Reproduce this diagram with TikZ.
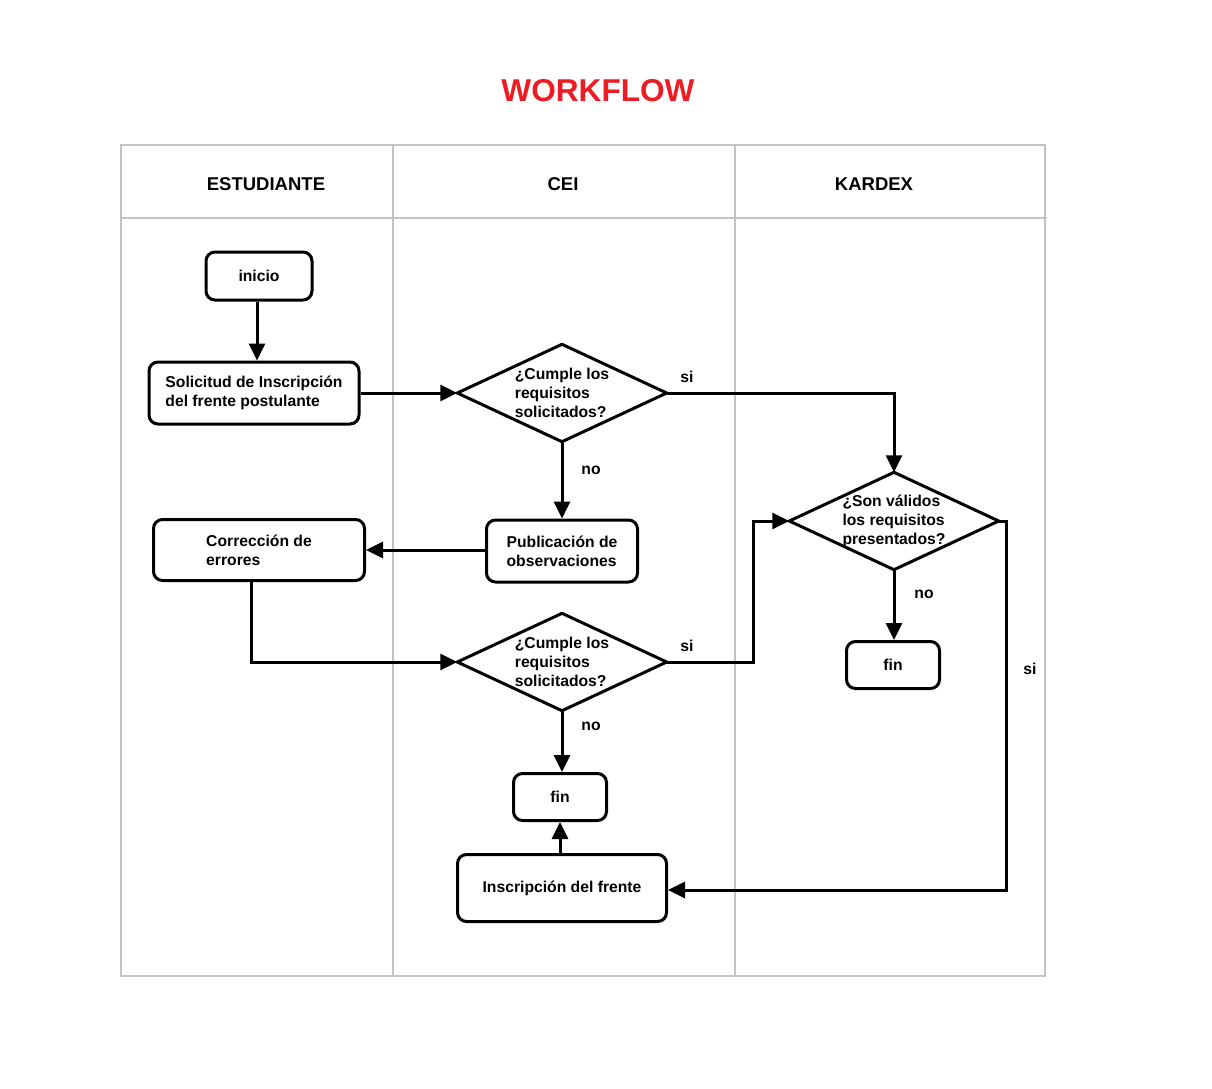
\documentclass[tikz,border=0pt]{standalone}
\usepackage{fontspec}
\setmainfont{Liberation Sans}
\usetikzlibrary{arrows.meta}
\definecolor{titlered}{RGB}{237,28,36}
\definecolor{lanegray}{RGB}{195,195,195}
\tikzstyle{lane}=[draw=lanegray, line width=2.8pt]
\tikzstyle{txt}=[font=\fontsize{15.7}{19}\selectfont\bfseries, align=left, inner sep=0]
\tikzstyle{lanehead}=[font=\fontsize{18.5}{22}\selectfont\bfseries, inner sep=0]
\tikzstyle{stepbox}=[txt, draw, line width=3pt, rounded corners=9pt]
\tikzstyle{decision}=[txt, minimum width=209pt, minimum height=97pt]
\tikzstyle{flow}=[line width=3pt, -{Triangle[length=17pt,width=16pt]}]

\begin{document}
\begin{tikzpicture}[x=1pt, y=-1pt]
    \useasboundingbox (0,0) rectangle (1212,1088);
    \node[font=\fontsize{31.6}{38}\selectfont\bfseries, text=titlered, inner sep=0] (title) at (598,91) {WORKFLOW};
    % lanes
    \draw[lane] (121,145) rectangle (1045,976);
    \draw[lane] (121,218) -- (1047,218);
    \draw[lane] (393,145) -- (393,976);
    \draw[lane] (735,145) -- (735,976);
    \node[lanehead] (hest) at (266,184) {ESTUDIANTE};
    \node[lanehead] (hcei) at (563,184) {CEI};
    \node[lanehead] (hkar) at (874,184) {KARDEX};
    % steps
    \node[stepbox, minimum width=106pt, minimum height=48pt] (inicio) at (259,276) {inicio};
    \node[stepbox, minimum width=210pt, minimum height=62pt] (solicitud) at (254,393) {Solicitud de Inscripción\\del frente postulante};
    \node[stepbox, minimum width=151pt, minimum height=62pt] (publica) at (562,551) {Publicación de\\observaciones};
    \node[stepbox, minimum width=211pt, minimum height=61pt] (correccion) at (259,550) {Corrección de\\errores};
    \node[stepbox, minimum width=93pt, minimum height=47pt] (finA) at (560,797) {fin};
    \node[stepbox, minimum width=209pt, minimum height=67pt] (inscripcion) at (562,888) {Inscripción del frente};
    \node[stepbox, minimum width=93pt, minimum height=47pt] (finB) at (893,665) {fin};
    % decisions
    \node[decision] (cumple1) at (562,393) {¿Cumple los\\requisitos\\solicitados?};
    \node[decision] (cumple2) at (562,662) {¿Cumple los\\requisitos\\solicitados?};
    \node[decision] (validos) at (894,521) {¿Son válidos\\los requisitos\\presentados?};
    \foreach \d in {cumple1,cumple2,validos}
        \draw[line width=3pt, line join=miter] (\d.west) -- (\d.north) -- (\d.east) -- (\d.south) -- cycle;
    % connectors
    \draw[flow] (inicio.south -| 257,0) -- (solicitud.north -| 257,0);
    \draw[flow] (solicitud.east) -- (cumple1.west);
    \draw[flow] (cumple1.east) -| (validos.north);
    \draw[flow] (cumple1.south) -- (publica.north);
    \draw[flow] ([yshift=1pt]publica.west) -- ([yshift=1pt]publica.west -| correccion.east);
    \draw[flow] ([xshift=-8pt]correccion.south) |- (cumple2.west);
    \draw[flow] (cumple2.east) -- ++(87,0) |- (validos.west);
    \draw[flow] (cumple2.south) -- (cumple2.south |- finA.north);
    \draw[flow] (finA.south |- inscripcion.north) -- (finA.south);
    \draw[flow] (validos.south) -- (validos.south |- finB.north);
    \draw[flow] (validos.east) -- ++(8,0) |- ([yshift=-2pt]inscripcion.east);
    % branch labels
    \node[txt] (si1) at (687,377) {si};
    \node[txt] (no1) at (591,470) {no};
    \node[txt] (si2) at (687,646) {si};
    \node[txt] (no2) at (591,726) {no};
    \node[txt] (no3) at (924,594) {no};
    \node[txt] (si3) at (1030,669) {si};
\end{tikzpicture}
\end{document}
